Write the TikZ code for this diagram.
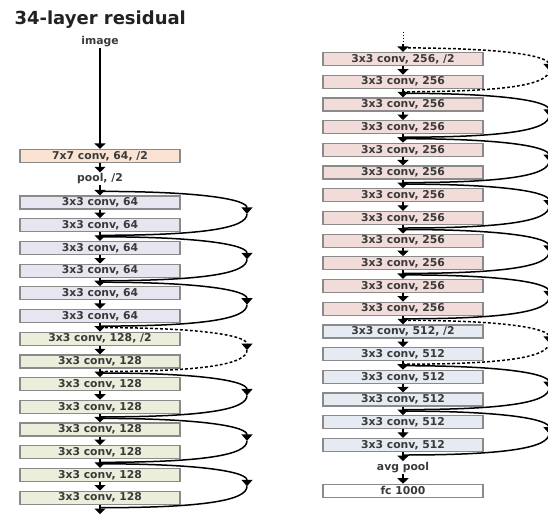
\documentclass[tikz,border=0pt]{standalone}
\usepackage{fontspec}
\setmainfont{DejaVu Sans}
\usepackage{tikz}
\usetikzlibrary{arrows.meta,calc}

\definecolor{convpeach}{HTML}{FAE3D2}
\definecolor{convlilac}{HTML}{E7E5EF}
\definecolor{convolive}{HTML}{EAEEDA}
\definecolor{convrose}{HTML}{F2DCDA}
\definecolor{convsteel}{HTML}{E6EAF2}
\definecolor{boxedge}{HTML}{8A8A8A}
\definecolor{labeltext}{HTML}{3A3A3A}
\definecolor{titletext}{HTML}{222222}

\tikzset{
  layer/.style={draw=boxedge, line width=1.2pt, minimum width=160pt, minimum height=13pt,
    inner sep=0pt, font=\fontsize{10.8}{12}\selectfont\bfseries, text=labeltext},
  lbl/.style={inner sep=1pt, font=\fontsize{10.8}{12}\selectfont\bfseries, text=labeltext},
  flow/.style={line width=1.7pt, -{Triangle[width=11pt,length=5.5pt]}},
  shortcut/.style={line width=1.5pt},
  proj/.style={line width=1.5pt, dash pattern=on 2.8pt off 2.2pt},
  skiptip/.style={-{Triangle[width=11pt,length=6.5pt]}},
}

\begin{document}
\begin{tikzpicture}[x=1pt,y=1pt]
\useasboundingbox (0,0) rectangle (548,-517);

\node[anchor=west, font=\fontsize{18}{20}\selectfont\bfseries, text=titletext] (title) at (11,-20) {34-layer residual};

% left column
\node[lbl] (img) at (100,-42) {image};
\node[layer, fill=convpeach] (c7) at (100,-156) {7x7 conv, 64, /2};
\node[lbl] (pool) at (100,-178.7) {pool, /2};
\foreach \i/\txt/\col in {1/64/convlilac,2/64/convlilac,3/64/convlilac,4/64/convlilac,
    5/64/convlilac,6/64/convlilac,7/{128, /2}/convolive,8/128/convolive,9/128/convolive,
    10/128/convolive,11/128/convolive,12/128/convolive,13/128/convolive,14/128/convolive}
  \node[layer, fill=\col] (L\i) at (100,{-202.5-(\i-1)*22.7}) {3x3 conv, \txt};
\coordinate (Lend) at (100,-514);

\draw[flow] (img) -- (c7);
\draw[flow] (c7) -- (pool);
\draw[flow] (pool) -- (L1);
\foreach \i [count=\j from 2] in {1,...,13}
  \draw[flow] (L\i) -- (L\j);
\draw[flow] (L14) -- (Lend);

% right column
\foreach \i/\txt/\col in {1/{256, /2}/convrose,2/256/convrose,3/256/convrose,4/256/convrose,
    5/256/convrose,6/256/convrose,7/256/convrose,8/256/convrose,9/256/convrose,
    10/256/convrose,11/256/convrose,12/256/convrose,13/{512, /2}/convsteel,14/512/convsteel,
    15/512/convsteel,16/512/convsteel,17/512/convsteel,18/512/convsteel}
  \node[layer, fill=\col] (R\i) at (403,{-59-(\i-1)*22.7}) {3x3 conv, \txt};
\node[lbl] (avg) at (403,-467.6) {avg pool};
\node[layer, fill=white] (fc) at (403,-490.8) {fc 1000};
\coordinate (Rdots) at (403,-32);
\coordinate (Rin) at (403,-44);

\draw[line width=1pt, dotted] (Rdots) -- (Rin);
\draw[flow] (Rin) -- (R1);
\foreach \i [count=\j from 2] in {1,...,17}
  \draw[flow] (R\i) -- (R\j);
\draw[flow] (R18) -- (avg);
\draw[flow] (avg) -- (fc);

% shortcut connections
\foreach \a/\b/\s in {1/2/shortcut,3/4/shortcut,5/6/shortcut,7/8/proj,
    9/10/shortcut,11/12/shortcut,13/14/shortcut} {
  \coordinate (LM\a) at ($(L\a.north)!.5!(L\b.south)+(147,0)$);
  \draw[\s, skiptip] ([yshift=4pt]L\a.north) .. controls +(105,0) and +(0,14) .. (LM\a);
  \draw[\s] (LM\a) .. controls +(0,-14) and +(105,0) .. ([yshift=-3pt]L\b.south);
}
\foreach \a/\b/\s in {1/2/proj,3/4/shortcut,5/6/shortcut,7/8/shortcut,9/10/shortcut,
    11/12/shortcut,13/14/proj,15/16/shortcut,17/18/shortcut} {
  \coordinate (RM\a) at ($(R\a.north)!.5!(R\b.south)+(146,0)$);
  \draw[\s, skiptip] ([yshift=4pt]R\a.north) .. controls +(105,0) and +(0,14) .. (RM\a);
  \draw[\s] (RM\a) .. controls +(0,-14) and +(105,0) .. ([yshift=-3pt]R\b.south);
}
\end{tikzpicture}
\end{document}
